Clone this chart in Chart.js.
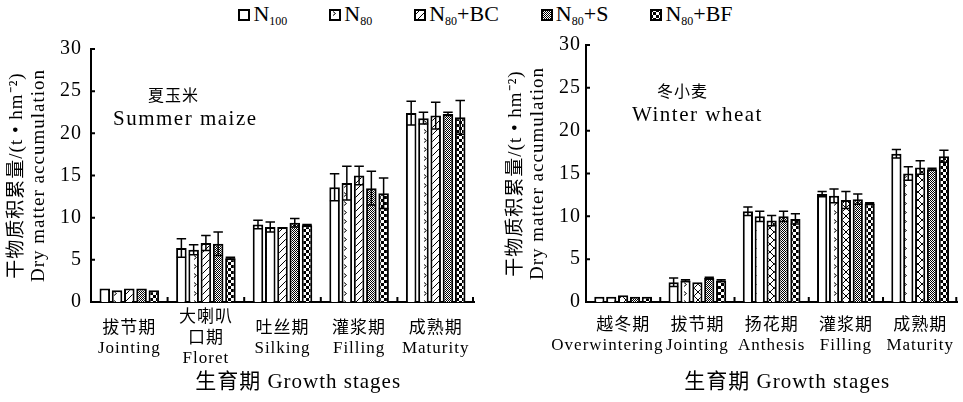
<!DOCTYPE html>
<html lang="zh">
<head>
<meta charset="UTF-8">
<title>干物质积累量</title>
<script src="https://cdn.jsdelivr.net/npm/chart.js"></script>
<style>
  body { margin: 0; background: #fff; width: 963px; height: 402px; position: relative; overflow: hidden;
         font-family: "Liberation Serif", "Noto Sans CJK SC", serif; color: #000; }
  #legend { position: absolute; top: 1px; left: 4px; width: 963px; display: flex; justify-content: center; gap: 42px;
            font-family: "Liberation Serif", serif; font-size: 22px; }
  #legend .item { display: flex; align-items: center; }
  #legend canvas { margin-right: 3px; }
  #legend sub { font-size: 12px; vertical-align: -4px; }
  canvas.chart { position: absolute; top: 28px; }
</style>
</head>
<body>
<div id="legend"></div>
<canvas class="chart" id="maize" width="490" height="374" style="left:0"></canvas>
<canvas class="chart" id="wheat" width="473" height="374" style="left:490px"></canvas>

<script>
// 生育期
const stagesMaize = [['拔节期', 'Jointing'], ['大喇叭', '口期', 'Floret'], ['吐丝期', 'Silking'], ['灌浆期', 'Filling'], ['成熟期', 'Maturity']];
const stagesWheat = [['越冬期', 'Overwintering\u00a0\u00a0\u00a0\u00a0\u00a0\u00a0'], ['拔节期', 'Jointing'], ['扬花期', 'Anthesis'], ['灌浆期', 'Filling'], ['成熟期', 'Maturity']];
const seriesNames = ['N100', 'N80', 'N80+BC', 'N80+S', 'N80+BF'];
const yTicks = [0, 5, 10, 15, 20, 25, 30];

// 夏玉米 (t/hm2)
const maizeN100 = [1.6, 6.4, 9.2, 13.6, 22.4];
const maizeN80  = [1.4, 6.2, 8.9, 14.1, 21.8];
const maizeBC   = [1.6, 7.0, 8.9, 15.0, 22.1];
const maizeS    = [1.6, 6.9, 9.4, 13.5, 22.3];
const maizeBF   = [1.4, 5.2, 9.1, 12.9, 21.9];
const maizeN100Err = [0, 1.1, 0.5, 1.6, 1.4];
const maizeN80Err  = [0, 0.6, 0.6, 2.0, 0.7];
const maizeBCErr   = [0, 0.9, 0, 1.1, 1.6];
const maizeSErr    = [0, 1.4, 0.5, 2.0, 0.2];
const maizeBFErr   = [0, 0.1, 0.1, 1.8, 2.0];

// 冬小麦 (t/hm2)
const wheatN100 = [0.6, 2.3, 10.6, 12.6, 17.3];
const wheatN80  = [0.6, 2.5, 10.0, 12.4, 15.0];
const wheatBC   = [0.8, 2.3, 9.5, 11.9, 15.7];
const wheatS    = [0.6, 2.8, 10.0, 12.0, 15.5];
const wheatBF   = [0.6, 2.5, 9.7, 11.5, 17.0];
const wheatN100Err = [0, 0.5, 0.5, 0.3, 0.5];
const wheatN80Err  = [0, 0.1, 0.6, 0.8, 0.8];
const wheatBCErr   = [0, 0, 0.6, 1.0, 0.8];
const wheatSErr    = [0, 0.1, 0.6, 0.6, 0.1];
const wheatBFErr   = [0, 0.1, 0.6, 0.1, 0.7];

const FONT = '"Liberation Serif", "Noto Sans CJK SC", serif';

// 填充图案
function makeFill(kind) {
  if (kind === 'open') return '#fff';
  const c = document.createElement('canvas');
  const g = c.getContext('2d');
  const s = { arrow: [10, 9], diag: [7, 7], cross: [8, 8], grey: [2, 2], check: [6, 6] }[kind];
  c.width = s[0]; c.height = s[1];
  g.fillStyle = '#fff'; g.fillRect(0, 0, c.width, c.height);
  g.strokeStyle = '#000'; g.fillStyle = '#000'; g.lineWidth = 1;
  if (kind === 'arrow') {
    g.beginPath(); g.moveTo(4, 2.5); g.lineTo(6.5, 4.5); g.lineTo(4, 6.5); g.stroke();
  } else if (kind === 'diag') {
    g.beginPath(); g.moveTo(-1, 8); g.lineTo(8, -1); g.stroke();
  } else if (kind === 'cross') {
    g.beginPath(); g.moveTo(0, 0); g.lineTo(8, 8); g.moveTo(8, 0); g.lineTo(0, 8); g.stroke();
  } else if (kind === 'grey') {
    g.fillRect(0, 0, 1, 1); g.fillRect(1, 1, 1, 1);
  } else if (kind === 'check') {
    g.fillRect(0, 0, 3, 3); g.fillRect(3, 3, 3, 3);
  }
  return g.createPattern(c, 'repeat');
}

// 误差线 + 内向刻度 + 图内文字
const extras = {
  id: 'extras',
  afterDatasetsDraw(chart) {
    const ctx = chart.ctx, y = chart.scales.y, x = chart.scales.x, area = chart.chartArea;
    ctx.save();
    ctx.strokeStyle = '#000';
    chart.data.datasets.forEach((ds, i) => {
      chart.getDatasetMeta(i).data.forEach((bar, j) => {
        const e = ds.errors[j];
        if (!e) return;
        const top = y.getPixelForValue(ds.data[j] + e);
        const bot = y.getPixelForValue(ds.data[j] - e);
        const hw = bar.width * 0.45;
        ctx.lineWidth = 1.5;
        ctx.beginPath();
        ctx.moveTo(bar.x, top); ctx.lineTo(bar.x, bot);
        ctx.moveTo(bar.x - hw, top); ctx.lineTo(bar.x + hw, top);
        ctx.moveTo(bar.x - hw, bot); ctx.lineTo(bar.x + hw, bot);
        ctx.stroke();
      });
    });
    // 刻度
    ctx.lineWidth = 2;
    ctx.beginPath();
    y.ticks.forEach(t => {
      const py = y.getPixelForValue(t.value);
      ctx.moveTo(area.left, py); ctx.lineTo(area.left + 4, py);
    });
    const n = chart.data.labels.length;
    for (let k = 1; k <= n; k++) {
      const px = k < n ? (x.getPixelForValue(k - 1) + x.getPixelForValue(k)) / 2 : area.right - 1;
      ctx.moveTo(px, area.bottom); ctx.lineTo(px, area.bottom - 5);
    }
    ctx.stroke();
    // 作物名
    const note = chart.options.plugins.extras;
    ctx.fillStyle = '#000';
    ctx.textBaseline = 'middle';
    ctx.textAlign = 'left';
    ctx.font = '16px "Noto Sans CJK SC"';
    ctx.letterSpacing = '1px';
    ctx.fillText(note.zh, area.left + note.zhX, area.top + 46);
    ctx.font = '21px "Liberation Serif"';
    ctx.letterSpacing = '1.5px';
    ctx.fillText(note.en, area.left + note.enX, area.top + 70);
    ctx.restore();
  }
};

const spacing = {
  id: 'spacing',
  beforeDraw(chart) { chart.ctx.letterSpacing = '1px'; }
};

function makeChart(id, labels, values, errors, fills, opt) {
  const datasets = seriesNames.map((name, i) => ({
    label: name,
    data: values[i],
    errors: errors[i],
    backgroundColor: makeFill(fills[i]),
    borderColor: '#000',
    borderWidth: 2,
    categoryPercentage: 0.8,
    barPercentage: 0.86
  }));
  return new Chart(document.getElementById(id), {
    type: 'bar',
    data: { labels: labels, datasets: datasets },
    plugins: [spacing, extras],
    options: {
      responsive: false,
      animation: false,
      layout: { padding: { top: 11, right: opt.padRight, left: 0, bottom: 0 } },
      plugins: {
        legend: { display: false },
        tooltip: { enabled: false },
        extras: opt.note
      },
      scales: {
        x: {
          grid: { display: false, drawTicks: false },
          border: { display: true, color: '#000', width: 2 },
          ticks: { color: '#000', font: { family: FONT, size: 17, lineHeight: 1.2 }, padding: opt.xPad,
                   crossAlign: opt.cross, maxRotation: 0, autoSkip: false },
          title: { display: true, text: '\u00a0\u00a0\u00a0\u00a0\u00a0生育期 Growth stages', color: '#000',
                   font: { family: FONT, size: 21 }, padding: { top: 0, bottom: 7 } },
          afterFit(s) { s.height = 100; }
        },
        y: {
          min: yTicks[0],
          max: yTicks[yTicks.length - 1],
          afterBuildTicks(s) { s.ticks = yTicks.map(v => ({ value: v })); },
          grid: { display: false, drawTicks: false },
          border: { display: true, color: '#000', width: 2 },
          ticks: { color: '#000', font: { family: FONT, size: 20 }, padding: opt.tickPad },
          title: { display: true, text: ['干物质积累量/(t • hm⁻²)', 'Dry matter accumulation'], color: '#000',
                   font: { family: FONT, size: 19, lineHeight: 1.15 }, padding: { top: opt.titlePad } },
          afterFit(s) { s.width = opt.yWidth; }
        }
      }
    }
  });
}

makeChart('maize', stagesMaize,
  [maizeN100, maizeN80, maizeBC, maizeS, maizeBF],
  [maizeN100Err, maizeN80Err, maizeBCErr, maizeSErr, maizeBFErr],
  ['open', 'arrow', 'diag', 'grey', 'check'],
  { padRight: 16, yWidth: 91, tickPad: 9, titlePad: 6, xPad: 16, cross: 'center',
    note: { zh: '夏玉米', en: 'Summer maize', zhX: 57, enX: 22 } });

makeChart('wheat', stagesWheat,
  [wheatN100, wheatN80, wheatBC, wheatS, wheatBF],
  [wheatN100Err, wheatN80Err, wheatBCErr, wheatSErr, wheatBFErr],
  ['open', 'arrow', 'cross', 'grey', 'check'],
  { padRight: 1, yWidth: 96, tickPad: 5, titlePad: 15, xPad: 13, cross: 'near',
    note: { zh: '冬小麦', en: 'Winter wheat', zhX: 71, enX: 46 } });

// 图例
const legendFills = ['open', 'arrow', 'diag', 'grey', 'check'];
const legend = document.getElementById('legend');
seriesNames.forEach((name, i) => {
  const item = document.createElement('span');
  item.className = 'item';
  const sw = document.createElement('canvas');
  sw.width = 12; sw.height = 12;
  const g = sw.getContext('2d');
  g.fillStyle = makeFill(legendFills[i]);
  g.fillRect(0, 0, 12, 12);
  g.lineWidth = 2; g.strokeStyle = '#000';
  g.strokeRect(1, 1, 10, 10);
  item.appendChild(sw);
  const txt = document.createElement('span');
  txt.innerHTML = name.replace(/^N(\d+)/, 'N<sub>$1</sub>');
  item.appendChild(txt);
  legend.appendChild(item);
});
</script>
</body>
</html>
